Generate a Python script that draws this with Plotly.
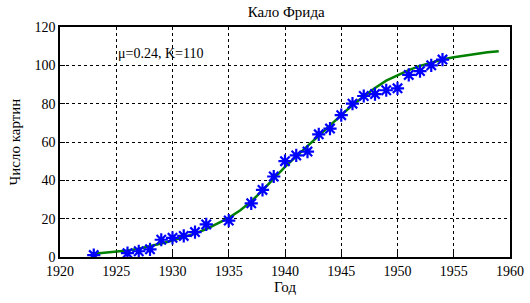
import plotly.graph_objects as go

title_text = "Кало Фрида"
x_title = "Год"
y_title = "Число картин"
note_text = "μ=0.24, K=110"

years = [1923, 1926, 1927, 1928, 1929, 1930, 1931, 1932, 1933, 1935, 1937, 1938, 1939,
         1940, 1941, 1942, 1943, 1944, 1945, 1946, 1947, 1948, 1949, 1950, 1951, 1952,
         1953, 1954]
paintings = [1, 2, 3, 4, 9, 10, 11, 13, 17, 19, 28, 35, 42,
             50, 53, 55, 64, 67, 74, 80, 84, 85, 87, 88, 95, 97,
             100, 103]

fit_years = list(range(1923, 1960))
fit_values = [1.7, 2.2, 2.7, 3.4, 4.3, 5.6, 7.0, 8.6, 10.2, 12.2, 14.6, 17.3, 20.4,
              24.3, 29.0, 34.8, 41.0, 47.0, 52.5, 58.0, 63.5, 69.0, 74.0, 79.3, 84.0,
              88.2, 92.0, 94.8, 97.5, 99.7, 101.5, 103.0, 104.2, 105.2, 106.1, 106.8, 107.4]

x_ticks = [1920, 1925, 1930, 1935, 1940, 1945, 1950, 1955, 1960]
y_ticks = [0, 20, 40, 60, 80, 100, 120]

font_family = "Liberation Serif"

fig = go.Figure()
fig.add_trace(go.Scatter(x=fit_years, y=fit_values, mode="lines",
                         line=dict(color="#008000", width=2.5), showlegend=False))
fig.add_trace(go.Scatter(x=years, y=paintings, mode="markers",
                         marker=dict(symbol="asterisk-open", size=11, color="#0000FF",
                                     line=dict(color="#0000FF", width=2.2)),
                         showlegend=False))

axis_common = dict(showgrid=True, gridcolor="black", griddash="dot", gridwidth=1,
                   showline=True, linecolor="black", linewidth=1.5, mirror=True,
                   ticks="inside", ticklen=5, tickcolor="black", zeroline=False,
                   automargin=False,
                   tickfont=dict(family=font_family, size=14, color="black"))

fig.update_xaxes(range=[1920, 1960], tickvals=x_ticks,
                 title=dict(text=x_title, font=dict(family=font_family, size=15, color="black"), standoff=4),
                 **axis_common)
fig.update_yaxes(range=[0, 120], tickvals=y_ticks,
                 title=dict(text=y_title, font=dict(family=font_family, size=15, color="black"), standoff=10),
                 **axis_common)

fig.add_annotation(x=1925, y=106, text=note_text, showarrow=False, xanchor="left",
                   yanchor="middle", font=dict(family=font_family, size=14, color="black"))

fig.update_layout(
    width=530, height=303,
    margin=dict(l=60, r=20, t=27, b=46),
    paper_bgcolor="white", plot_bgcolor="white",
    title=dict(text=title_text, x=0.54, xanchor="center", y=0.96, yanchor="middle",
               font=dict(family=font_family, size=15, color="black")),
)

fig.write_html("out.html", config={"displayModeBar": False},
               post_script="document.body.style.margin='0';document.body.style.overflow='hidden';")
